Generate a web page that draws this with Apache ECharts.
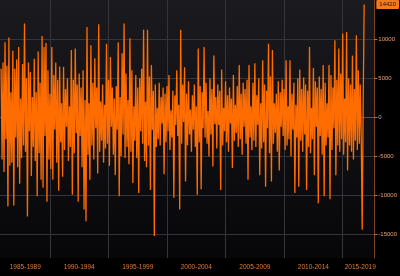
<!DOCTYPE html>
<html><head><meta charset="utf-8">
<script src="https://cdn.jsdelivr.net/npm/echarts@6/dist/echarts.min.js"></script>
<style>html,body{margin:0;padding:0;background:#000}#c{width:400px;height:276px}</style>
</head><body><div id="c"></div>
<script>
// Monthly series, first point Nov 1985
const START_YEAR = 1985;
const START_MONTH = 11;
const VALUES = [
6200,-5400,7000,-7000,9600,-2800,6600,-11400,10200,-6200,
3200,-5800,8500,-11300,6200,-2600,7400,-6400,9000,-8500,
2400,-5200,6800,-3600,12000,-4400,5000,-12700,7000,-1800,
5800,-7500,2600,-3800,7500,-5600,3200,-10100,8400,-4600,
4400,-8000,10400,-9000,9000,-2400,9500,-10800,6000,-5400,
3000,-6600,9000,-8000,5400,-1600,7000,-5800,4800,-9400,
6500,-3200,1800,-7600,6450,-4200,3600,-1200,5000,-5600,
1400,-3800,8600,-9900,4800,-4600,8800,-2000,4200,-10800,
5600,-2400,3800,-6400,6000,-11800,2200,-13300,11550,-4800,
1800,-8000,9200,-3600,4400,-5400,7560,-1400,3800,-7200,
11900,-4400,2000,-3000,4200,-5800,1600,-4000,9400,-3400,
4800,-6200,7700,-1200,3800,-4800,2400,-7400,4000,-1600,
9600,-10100,2600,-5000,8200,-2200,12000,-5200,5600,-3800,
2200,-6000,10100,-4400,6000,-8400,1400,-3000,5400,-5200,
3800,-9700,5000,-1800,6200,-3400,11200,-5600,2000,-6400,
11200,-3600,5200,-9300,6700,-1600,3400,-15200,4200,-3800,
1200,-2800,4400,-3600,2600,-800,3800,-7300,3000,-3200,
4000,-1800,5400,-4200,900,-2600,3400,-10300,2800,-1000,
6000,-2400,1600,-11800,11200,-3400,4200,-600,6400,-8200,
3000,-3600,4600,-2200,1000,-4400,2800,-1600,4200,-3800,
1400,-9900,8800,-3200,4000,-9200,3200,-1400,9000,-2600,
4400,-3400,800,-5000,5000,-2200,3600,-6300,7900,-900,
2600,-4000,4200,-1000,3400,-9300,6100,-3600,1200,-1800,
4600,-3200,2800,-4400,3800,-800,2400,-6500,5400,-3000,
1600,-2000,4000,-3800,6700,-2800,3000,-4800,4400,-1200,
3600,-3400,4800,-8000,6700,-2600,1400,-4200,4400,-3000,
6900,-3800,2800,-1000,5000,-7400,1800,-4000,7300,-3200,
4200,-8900,3400,-1400,9400,-4600,5200,-8200,8600,-3400,
1800,-2000,3000,-4400,4600,-6800,3200,-1200,4800,-2400,
3600,-4200,7300,-3600,1400,-2800,7300,-5000,3000,-1600,
4400,-9700,1600,-2600,5000,-8900,6100,-3000,3600,-4400,
5100,-2200,4200,-9300,3400,-3800,9000,-4600,1200,-2800,
6300,-7400,4600,-1200,3800,-11000,5200,-2400,3600,-4800,
6700,-10100,4400,-3600,1800,-2600,6700,-10500,5400,-4200,
3800,-1400,9860,-7400,4800,-3600,8800,-4400,5600,-2800,
10700,-4800,2400,-3200,10900,-6800,5000,-3600,4200,-4400,
7900,-5400,3600,-3000,10500,-4200,6000,-3400,4200,-2600,
-14400,2000,14420
];
const X_LABELS = ['1985-1989','1990-1994','1995-1999','2000-2004','2005-2009','2010-2014','2015-2019'];
const X_LABEL_POS = [1987.9, 1992.5, 1997.5, 2002.5, 2007.5, 2012.5, 2016.5];
const X_GRID_YEARS = [1990, 1995, 2000, 2005, 2010, 2015];
const Y_TICKS = [-15000, -10000, -5000, 0, 5000, 10000];
const LAST_VALUE = VALUES[VALUES.length - 1];

const points = VALUES.map((v, i) => [START_YEAR + (START_MONTH - 1 + i) / 12, v]);
const FONT = 'Liberation Sans';

const chart = echarts.init(document.getElementById('c'), null, {renderer: 'canvas'});
chart.setOption({
  animation: false,
  backgroundColor: '#000',
  grid: {
    left: 0, right: 25, top: 0, bottom: 18, containLabel: false,
    show: true, borderWidth: 0,
    backgroundColor: new echarts.graphic.LinearGradient(0, 0, 0, 1, [
      {offset: 0, color: '#1a1a1f'}, {offset: 1, color: '#07070a'}
    ])
  },
  xAxis: {
    type: 'value', min: 1985.74, max: 2017.7,
    axisLine: {show: true, lineStyle: {color: '#9a3a10', width: 1}},
    axisTick: {show: false},
    splitLine: {show: false},
    axisLabel: {
      customValues: X_LABEL_POS,
      color: '#e07a35', fontSize: 6.5, fontFamily: FONT, margin: 6,
      formatter: (val) => {
        let best = 0;
        X_LABEL_POS.forEach((p, k) => { if (Math.abs(p - val) < Math.abs(X_LABEL_POS[best] - val)) best = k; });
        return X_LABELS[best];
      }
    }
  },
  yAxis: {
    type: 'value', position: 'right', min: -18000, max: 15000,
    axisLine: {show: true, lineStyle: {color: '#7a4020', width: 1}},
    axisTick: {show: true, customValues: Y_TICKS, length: 3, lineStyle: {color: '#d07030'}},
    splitLine: {show: false},
    axisLabel: {customValues: Y_TICKS, color: '#eaa070', fontSize: 6, fontFamily: FONT, margin: 4,
      formatter: (v) => String(Math.round(v))}
  },
  series: [
    {
      type: 'line', data: [], z: 0, silent: true,
      markLine: {
        z: 0,
        silent: true, symbol: 'none', animation: false,
        label: {show: false},
        lineStyle: {color: '#34343a', width: 1, type: 'solid'},
        data: X_GRID_YEARS.map(y => ({xAxis: y})).concat(Y_TICKS.map(v => ({yAxis: v})))
      }
    },
    {
      type: 'line', data: points, z: 3, symbol: 'none', showSymbol: false,
      sampling: false,
      lineStyle: {color: '#ff6c00', width: 1.3},
      markLine: {
        silent: true, symbol: 'none', animation: false,
        lineStyle: {color: 'rgba(0,0,0,0)', width: 0},
        label: {
          show: true, position: 'end', distance: 2,
          formatter: String(LAST_VALUE),
          backgroundColor: '#f57a1e', color: '#2a1000',
          fontSize: 6, fontFamily: FONT, padding: [2, 3, 1, 3], borderRadius: 1
        },
        data: [{yAxis: LAST_VALUE}]
      }
    }
  ]
});
</script></body></html>
